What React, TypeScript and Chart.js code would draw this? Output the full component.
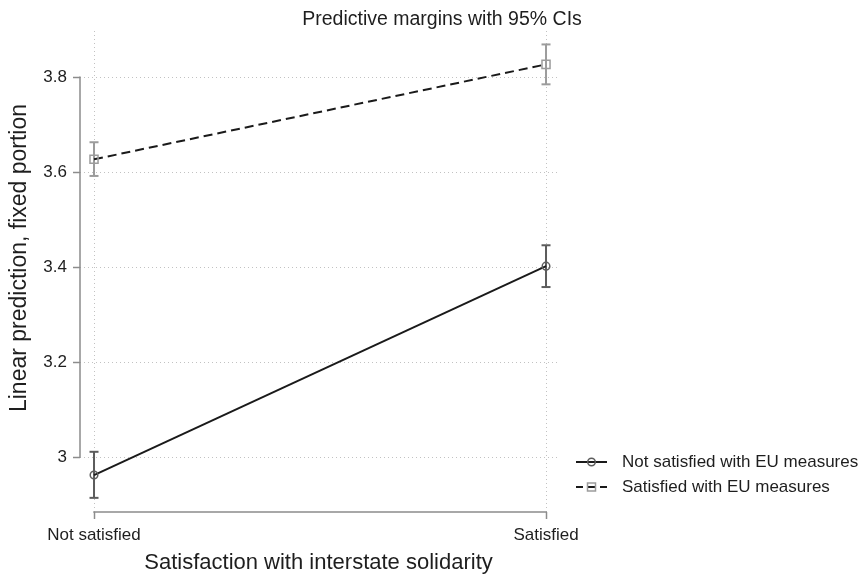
import { useEffect, useRef } from 'react';
import { Chart, registerables } from 'chart.js';

Chart.register(...registerables);

const categories = ['Not satisfied', 'Satisfied'];
const xPositions = [0, 1];
const yTicks = [3, 3.2, 3.4, 3.6, 3.8];
const seriesNames = ['Not satisfied with EU measures', 'Satisfied with EU measures'];

const notSatMean = [2.962, 3.402];
const notSatLo = [2.914, 3.358];
const notSatHi = [3.011, 3.446];

const satMean = [3.627, 3.827];
const satLo = [3.592, 3.785];
const satHi = [3.663, 3.869];

const titleText = 'Predictive margins with 95% CIs';
const xTitle = 'Satisfaction with interstate solidarity';
const yTitle = 'Linear prediction, fixed portion';

const FONT = '"Liberation Sans", Arial, Helvetica, sans-serif';
const TEXT = '#1e1e1e';
const AXIS = '#8c8c8c';
const GRID = '#c2c2c2';
const LINE = '#1a1a1a';
const DARK_MARK = '#5c5c5c';
const LIGHT_MARK = '#9c9c9c';

const points = (vals: number[]) => xPositions.map((x, i) => ({ x, y: vals[i] }));
const ciData = (lo: number[], hi: number[]) =>
  xPositions.flatMap((x, i) => [
    { x, y: lo[i] },
    { x, y: hi[i] },
    { x, y: null as any },
  ]);

const stataPlugin = {
  id: 'stataDecor',
  afterDraw(chart: any) {
    const ctx = chart.ctx as CanvasRenderingContext2D;
    const xs = chart.scales.x;
    const ys = chart.scales.y;
    const area = chart.chartArea;
    ctx.save();
    // axis lines spanning only the tick range
    ctx.strokeStyle = AXIS;
    ctx.lineWidth = 1.5;
    ctx.setLineDash([]);
    ctx.beginPath();
    ctx.moveTo(area.left, ys.getPixelForValue(yTicks[0]) + 0.75);
    ctx.lineTo(area.left, ys.getPixelForValue(yTicks[yTicks.length - 1]) - 0.75);
    ctx.moveTo(xs.getPixelForValue(xPositions[0]) - 0.75, area.bottom);
    ctx.lineTo(xs.getPixelForValue(xPositions[xPositions.length - 1]) + 0.75, area.bottom);
    ctx.stroke();

    // title
    ctx.fillStyle = TEXT;
    ctx.font = `19.5px ${FONT}`;
    ctx.textAlign = 'center';
    ctx.textBaseline = 'alphabetic';
    ctx.fillText(titleText, 442, 25);

    // y axis title
    ctx.save();
    ctx.translate(20, 258);
    ctx.rotate(-Math.PI / 2);
    ctx.font = `23px ${FONT}`;
    ctx.textAlign = 'center';
    ctx.textBaseline = 'middle';
    ctx.fillText(yTitle, 0, 0);
    ctx.restore();

    // legend
    const lx = area.right + 19;
    const rows = [
      { y: 462, dash: [] as number[], style: 'circle', color: DARK_MARK },
      { y: 487, dash: [7, 5], style: 'rect', color: LIGHT_MARK },
    ];
    rows.forEach((r, i) => {
      ctx.strokeStyle = LINE;
      ctx.lineWidth = 2;
      ctx.setLineDash(r.dash);
      ctx.beginPath();
      ctx.moveTo(lx, r.y);
      ctx.lineTo(lx + 31, r.y);
      ctx.stroke();
      ctx.setLineDash([]);
      ctx.strokeStyle = r.color;
      ctx.lineWidth = 1.5;
      ctx.beginPath();
      const cx = lx + 15.5;
      if (r.style === 'circle') {
        ctx.arc(cx, r.y, 3.8, 0, Math.PI * 2);
      } else {
        ctx.rect(cx - 4, r.y - 4, 8, 8);
      }
      ctx.stroke();
      ctx.fillStyle = TEXT;
      ctx.font = `17px ${FONT}`;
      ctx.textAlign = 'left';
      ctx.textBaseline = 'middle';
      ctx.fillText(seriesNames[i], lx + 46, r.y);
    });
    ctx.restore();
  },
};

export default function App() {
  const ref = useRef<HTMLCanvasElement | null>(null);

  useEffect(() => {
    if (!ref.current) return;
    const chart = new Chart(ref.current, {
      type: 'line',
      data: {
        datasets: [
          {
            label: seriesNames[0],
            data: points(notSatMean),
            borderColor: LINE,
            borderWidth: 2,
            pointStyle: 'circle',
            pointRadius: 3.8,
            pointBorderColor: DARK_MARK,
            pointBackgroundColor: 'rgba(0,0,0,0)',
            pointBorderWidth: 1.5,
            fill: false,
            tension: 0,
          },
          {
            label: seriesNames[1],
            data: points(satMean),
            borderColor: LINE,
            borderWidth: 2,
            borderDash: [9, 5],
            pointStyle: 'rect',
            pointRadius: 5.7,
            pointBorderColor: LIGHT_MARK,
            pointBackgroundColor: 'rgba(0,0,0,0)',
            pointBorderWidth: 1.5,
            fill: false,
            tension: 0,
          },
          {
            label: 'ci0',
            data: ciData(notSatLo, notSatHi),
            borderColor: DARK_MARK,
            borderWidth: 2,
            pointStyle: 'line',
            pointRadius: 4.5,
            pointBorderColor: DARK_MARK,
            pointBorderWidth: 2,
            spanGaps: false,
            fill: false,
          },
          {
            label: 'ci1',
            data: ciData(satLo, satHi),
            borderColor: LIGHT_MARK,
            borderWidth: 2,
            pointStyle: 'line',
            pointRadius: 4.5,
            pointBorderColor: LIGHT_MARK,
            pointBorderWidth: 2,
            spanGaps: false,
            fill: false,
          },
        ] as any,
      },
      options: {
        responsive: false,
        animation: false,
        events: [],
        layout: { padding: { top: 31, right: 309, bottom: 0, left: 0 } },
        plugins: {
          legend: { display: false },
          tooltip: { enabled: false },
          title: { display: false },
        },
        scales: {
          x: {
            type: 'linear',
            min: -0.031,
            max: 1.0243,
            afterBuildTicks: (scale: any) => {
              scale.ticks = xPositions.map((v) => ({ value: v }));
            },
            afterFit: (scale: any) => {
              scale.height = 64;
            },
            ticks: {
              callback: (_v: any, i: number) => categories[i],
              color: TEXT,
              font: { family: FONT, size: 17 },
              padding: 6,
              maxRotation: 0,
              autoSkip: false,
            },
            grid: {
              color: GRID,
              lineWidth: 1,
              drawTicks: true,
              tickLength: 7,
              tickColor: AXIS,
              tickWidth: 1.5,
              tickBorderDash: [],
            },
            border: { display: false, dash: [1, 3] },
            title: {
              display: true,
              text: xTitle,
              color: TEXT,
              font: { family: FONT, size: 22 },
              padding: { top: 0, bottom: 0 },
            },
          },
          y: {
            type: 'linear',
            min: 2.8842,
            max: 3.8973,
            afterBuildTicks: (scale: any) => {
              scale.ticks = yTicks.map((v) => ({ value: v }));
            },
            afterFit: (scale: any) => {
              scale.width = 80;
            },
            ticks: {
              callback: (v: any) => String(v),
              color: TEXT,
              font: { family: FONT, size: 17 },
              padding: 6,
            },
            grid: {
              color: GRID,
              lineWidth: 1,
              drawTicks: true,
              tickLength: 7,
              tickColor: AXIS,
              tickWidth: 1.5,
              tickBorderDash: [],
            },
            border: { display: false, dash: [1, 3] },
            title: { display: false, text: yTitle },
          },
        },
      } as any,
      plugins: [stataPlugin],
    });
    return () => chart.destroy();
  }, []);

  return (
    <div style={{ position: 'absolute', left: 0, top: 0, width: 866, height: 576, background: '#fff' }}>
      <canvas ref={ref} width={866} height={576} />
    </div>
  );
}
